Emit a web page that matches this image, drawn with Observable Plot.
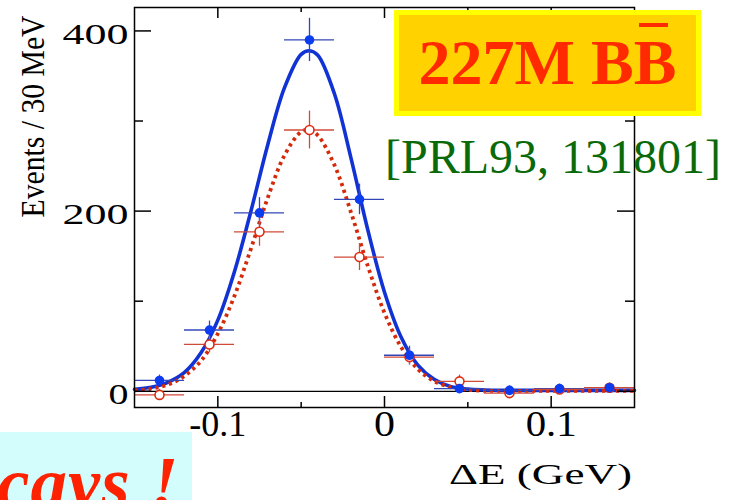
<!DOCTYPE html>
<html>
<head>
<meta charset="utf-8">
<script src="https://cdn.jsdelivr.net/npm/d3@7"></script>
<script src="https://cdn.jsdelivr.net/npm/@observablehq/plot@0.6"></script>
<style>
  html, body { margin: 0; padding: 0; background: #fff; }
  #wrap { position: relative; width: 738px; height: 500px; overflow: hidden; font-family: "Liberation Serif", serif; }
  #wrap svg { position: absolute; left: 0; top: 0; }
  .ov { position: absolute; white-space: nowrap; }
</style>
</head>
<body>
<div id="wrap"></div>
<script>
// ---- data ----
const binCenters = [-0.135, -0.105, -0.075, -0.045, -0.015, 0.015, 0.045, 0.075, 0.105, 0.135];
const binHalfWidth = 0.015;
const blueCounts = [12, 68, 198, 390, 213, 40, 3, 1, 3, 4];
const blueErr    = [6, 10, 17, 24, 17, 10, 5, 5, 5, 5];
const redCounts  = [-4, 52, 177, 290, 149, 38, 11, -2, 2, 4];
const redErr     = [6, 9, 16, 21, 15, 9, 7, 5, 5, 5];

const curveX  = [-0.15, -0.14, -0.13, -0.12, -0.11, -0.10, -0.09, -0.08, -0.07, -0.06, -0.05, -0.045, -0.04, -0.03, -0.02, -0.01, 0, 0.01, 0.02, 0.03, 0.04, 0.05, 0.06, 0.07, 0.08, 0.09, 0.10, 0.11, 0.12, 0.13, 0.14, 0.15];
const blueFit = [2.2, 4.5, 10, 21, 43, 79, 133, 201, 274, 337, 374, 378, 373, 330, 258, 179, 110, 60, 29, 13, 5, 2.5, 1.5, 1, 1, 1, 1, 1, 1, 1, 1, 1];
const redFit  = [1.0, 2.9, 7.4, 17, 34, 64, 106, 159, 215, 262, 288, 290, 284, 251, 198, 139, 87, 49, 24.6, 11, 4.4, 1.6, 0.6, 0.4, 0.4, 0.4, 0.4, 0.4, 0.4, 0.4, 0.4, 0.4];

const xMajorTicks = [-0.1, 0, 0.1];
const xMinorTicks = [-0.05, 0.05];
const xTickLabels = ["-0.1", "0", "0.1"];
const yMajorTicks = [0, 200, 400];
const yMinorTicks = [100, 300];
const yTickLabels = ["0", "200", "400"];
const xTitle = "ΔE (GeV)";
const yTitle = "Events / 30 MeV";

// ---- tables ----
const blue = binCenters.map((x, i) => ({x, y: blueCounts[i], e: blueErr[i]}));
const red  = binCenters.map((x, i) => ({x, y: redCounts[i], e: redErr[i]}));
const blueCurve = curveX.map((x, i) => ({x, y: blueFit[i]}));
const redCurve  = curveX.map((x, i) => ({x, y: redFit[i]}));

const blueBar = "#3346b8", redBar = "#d04a38";

const chart = Plot.plot({
  width: 738, height: 500,
  marginLeft: 134, marginRight: 104, marginTop: 7, marginBottom: 93,
  x: {domain: [-0.15, 0.15], axis: null},
  y: {domain: [-18, 426], axis: null},
  style: {background: "transparent", fontFamily: "Liberation Serif, serif", color: "#000", overflow: "visible"},
  marks: [
    Plot.ruleY([0], {stroke: "#000", strokeWidth: 1.3}),
    // fit curves
    Plot.line(blueCurve, {x: "x", y: "y", curve: "catmull-rom", stroke: "#1233d4", strokeWidth: 3.6}),
    Plot.line(redCurve, {x: "x", y: "y", curve: "catmull-rom", stroke: "#d42a0a", strokeWidth: 3.8, strokeDasharray: "3.2,3.8", strokeLinecap: "butt"}),
    // error bars
    Plot.ruleY(blue, {y: "y", x1: d => d.x - binHalfWidth, x2: d => d.x + binHalfWidth, stroke: blueBar, strokeWidth: 1.3}),
    Plot.ruleX(blue, {x: "x", y1: d => d.y - d.e, y2: d => d.y + d.e, stroke: blueBar, strokeWidth: 1.3}),
    Plot.ruleY(red, {y: "y", x1: d => d.x - binHalfWidth, x2: d => d.x + binHalfWidth, stroke: redBar, strokeWidth: 1.3}),
    Plot.ruleX(red, {x: "x", y1: d => d.y - d.e, y2: d => d.y + d.e, stroke: redBar, strokeWidth: 1.3}),
    // points
    Plot.dot(red, {x: "x", y: "y", r: 4.5, fill: "white", stroke: "#e02a10", strokeWidth: 1.6}),
    Plot.dot(blue, {x: "x", y: "y", r: 4.8, fill: "#0b3cf0"}),
    // frame and ticks
    Plot.frame({stroke: "#000", strokeWidth: 1.5}),
    Plot.ruleX(xMajorTicks, {x: d => d, insetTop: 389, stroke: "#000", strokeWidth: 1.5}),
    Plot.ruleX(xMajorTicks, {x: d => d, insetBottom: 389, stroke: "#000", strokeWidth: 1.5}),
    Plot.ruleX(xMinorTicks, {x: d => d, insetTop: 395, stroke: "#000", strokeWidth: 1.5}),
    Plot.ruleX(xMinorTicks, {x: d => d, insetBottom: 395, stroke: "#000", strokeWidth: 1.5}),
    Plot.ruleY(yMajorTicks, {y: d => d, insetRight: 483, stroke: "#000", strokeWidth: 1.5}),
    Plot.ruleY(yMajorTicks, {y: d => d, insetLeft: 483, stroke: "#000", strokeWidth: 1.5}),
    Plot.ruleY(yMinorTicks, {y: d => d, insetRight: 491, stroke: "#000", strokeWidth: 1.5}),
    Plot.ruleY(yMinorTicks, {y: d => d, insetLeft: 491, stroke: "#000", strokeWidth: 1.5}),
    // tick labels
    Plot.text(yMajorTicks, {y: d => d, text: (d, i) => yTickLabels[i], frameAnchor: "left", textAnchor: "end", dx: -6, dy: 3, fontSize: 30, fill: "#000", ariaLabel: () => "ytl"}),
    Plot.text(xMajorTicks, {x: d => d, text: (d, i) => xTickLabels[i], frameAnchor: "bottom", textAnchor: "middle", dy: 28.5, fontSize: 36, fill: "#000", ariaLabel: () => "xtl"}),
    // axis titles
    Plot.text([xTitle], {text: d => d, frameAnchor: "bottom", textAnchor: "middle", dx: 156, dy: 76.4, fontSize: 30, fill: "#000", ariaLabel: () => "xtitle"}),
    Plot.text([yTitle], {text: d => d, frameAnchor: "left", textAnchor: "middle", rotate: -90, dx: -101.3, dy: -91, fontSize: 33, fill: "#000", ariaLabel: () => "ytitle"})
  ]
});

const svg = d3.select(chart);
svg.selectAll('text[aria-label="ytl"]').each(function() {
  const t = this.textContent;
  this.setAttribute("textLength", t.length === 1 ? 20 : 66);
  this.setAttribute("lengthAdjust", "spacingAndGlyphs");
});
svg.selectAll('text[aria-label="xtl"]').each(function() {
  const t = this.textContent;
  const L = t === "0" ? 21 : (t.startsWith("-") ? 57 : 51);
  this.setAttribute("textLength", L);
  this.setAttribute("lengthAdjust", "spacingAndGlyphs");
});
svg.selectAll('text[aria-label="xtitle"]').attr("textLength", 183).attr("lengthAdjust", "spacingAndGlyphs");
svg.selectAll('text[aria-label="ytitle"]').attr("textLength", 202).attr("lengthAdjust", "spacingAndGlyphs");

const wrap = document.getElementById("wrap");
wrap.appendChild(chart);

// ---- annotations ----
function ov(html, css) {
  const d = document.createElement("div");
  d.className = "ov";
  d.innerHTML = html;
  Object.assign(d.style, css);
  wrap.appendChild(d);
  return d;
}
ov("", {left: "394px", top: "10px", width: "307px", height: "106px", boxSizing: "border-box",
        border: "5px solid #ffff00", background: "#ffd200"});
ov("227M BB", {left: "394px", width: "307px", textAlign: "center", top: "30.5px",
        fontSize: "64px", lineHeight: "64px", fontWeight: "bold", color: "#ff2a00",
        fontFamily: "'Liberation Serif', serif"});
ov("", {left: "639px", top: "22.7px", width: "29px", height: "4px", background: "#ff2a00"});
ov("[PRL93, 131801]", {left: "385px", top: "133px", fontSize: "48px", lineHeight: "48px",
        color: "#0a6a0a", fontFamily: "'Liberation Serif', serif"});
ov("", {left: "0px", top: "431.7px", width: "192px", height: "70px", background: "#d3fcfc"});
ov("cays !", {left: "-3px", top: "447px", fontSize: "73px", lineHeight: "73px", fontWeight: "bold",
        fontStyle: "italic", letterSpacing: "1px", color: "#ff2200", fontFamily: "'Liberation Serif', serif"});
</script>
</body>
</html>
